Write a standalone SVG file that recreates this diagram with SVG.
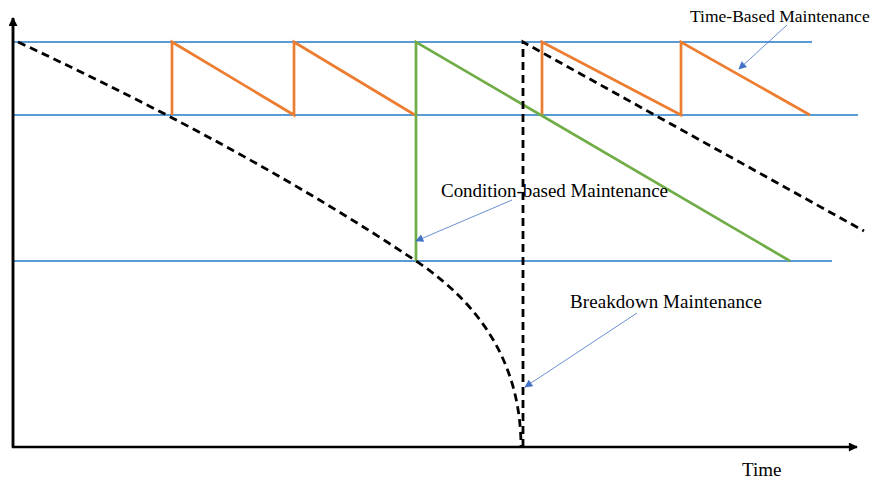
<svg xmlns="http://www.w3.org/2000/svg" width="880" height="481" viewBox="0 0 880 481">
<style>
.lvl{stroke:#5B9BD5;stroke-width:1.8;fill:none}
.tbm{stroke:#ED7D31;stroke-width:2.7;fill:none;stroke-linejoin:miter}
.cbm{stroke:#70AD47;stroke-width:2.7;fill:none}
.dash{stroke:#000;stroke-width:2.8;fill:none;stroke-dasharray:8 5}
.axis{stroke:#000;stroke-width:2.5;fill:none}
.call{stroke:#4472C4;stroke-width:0.8;fill:none}
.lbl{font-family:"Liberation Serif","Times New Roman",serif;font-size:19px;fill:#000}
</style>
<defs>
<marker id="ah" viewBox="0 0 10 10" refX="9" refY="5" markerWidth="10" markerHeight="8" markerUnits="userSpaceOnUse" orient="auto">
<path d="M0,0 L10,5 L0,10 z" fill="#4472C4"/>
</marker>
<marker id="ax" viewBox="0 0 10 10" refX="9" refY="5" markerWidth="10" markerHeight="9" markerUnits="userSpaceOnUse" orient="auto">
<path d="M0,0 L10,5 L0,10 z" fill="#000"/>
</marker>
</defs>
<g id="levels">
<line class="lvl" x1="14" y1="42" x2="812" y2="42"/>
<line class="lvl" x1="14" y1="115" x2="858" y2="115"/>
<line class="lvl" x1="14" y1="261" x2="832" y2="261"/>
</g>
<g id="axes">
<polyline class="axis" points="13,18 13,447 857,447" marker-end="url(#ax)"/>
<line class="axis" x1="13" y1="447" x2="13" y2="18" marker-end="url(#ax)"/>
</g>
<g id="time-based">
<polyline class="tbm" points="172,115 172,42 294,115 294,42 415,115"/>
<polyline class="tbm" points="542,115 542,42 681,115 681,42 810,115"/>
</g>
<g id="condition-based">
<polyline class="cbm" points="416,261 416,42 790,261"/>
</g>
<g id="breakdown">
<path class="dash" d="M18,42 Q250,150 416,261 Q521,331 521,447"/>
<polyline class="dash" points="523,447 523,42 864,231"/>
</g>
<g id="connectors">
<line class="call" x1="787" y1="25" x2="739" y2="69" marker-end="url(#ah)"/>
<line class="call" x1="512" y1="200" x2="416" y2="241" marker-end="url(#ah)"/>
<line class="call" x1="637" y1="313" x2="525" y2="387" marker-end="url(#ah)"/>
</g>
<g id="labels">
<text class="lbl" x="690" y="22" style="font-size:17.5px">Time-Based Maintenance</text>
<text class="lbl" x="441" y="197" textLength="227">Condition-based Maintenance</text>
<text class="lbl" x="570" y="308" textLength="192">Breakdown Maintenance</text>
<text class="lbl" x="742" y="476">Time</text>
</g>
</svg>
